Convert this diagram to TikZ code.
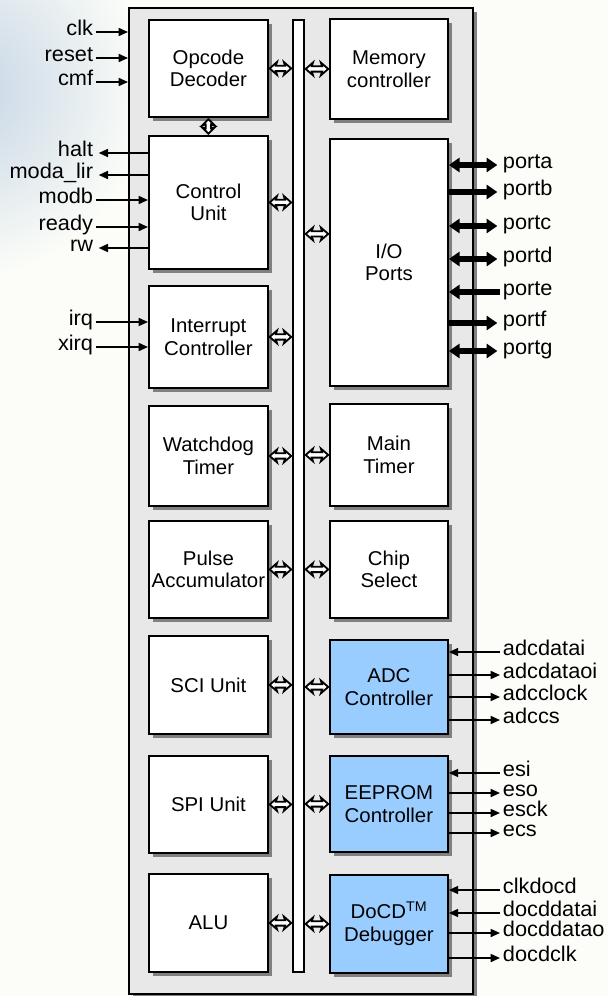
\documentclass[tikz,border=0pt]{standalone}
\usepackage{fontspec}
\setmainfont{Liberation Sans}[FakeStretch=1.02]
\usetikzlibrary{arrows.meta,shadows,calc}
\definecolor{bg}{HTML}{FCFDF8}
\definecolor{chipgray}{HTML}{E8E8E8}
\definecolor{blk}{HTML}{99CCFF}
\definecolor{glow}{HTML}{C4D4E4}
\newcommand\pxbox[7]{\node[#7, anchor=north west, minimum width={(#4-#2)*0.75pt}, minimum height={(#5-#3)*0.75pt}] (#1) at (#2,#3) {#6};}
% hollow double arrow, horizontal, from left point #1 to right point #2
\newcommand\hbi[2]{\draw[hollowshape] let \p1=#1, \p2=#2 in
  (\x1,\y1) -- (\x1+5.5pt,\y1+4.8pt) -- (\x1+4.6pt,\y1+2pt) -- (\x2-4.6pt,\y2+2pt) -- (\x2-5.5pt,\y2+4.8pt) -- (\x2,\y2)
  -- (\x2-5.5pt,\y2-4.8pt) -- (\x2-4.6pt,\y2-2pt) -- (\x1+4.6pt,\y1-2pt) -- (\x1+5.5pt,\y1-4.8pt) -- cycle;}
% hollow double arrow, vertical, from upper point #1 to lower point #2
\newcommand\vbi[2]{\draw[hollowshape] let \p1=#1, \p2=#2 in
  (\x1,\y1) -- (\x1+4.6pt,\y1-4.6pt) -- (\x1+2pt,\y1-4pt) -- (\x2+2pt,\y2+4pt) -- (\x2+4.6pt,\y2+4.6pt) -- (\x2,\y2)
  -- (\x2-4.6pt,\y2+4.6pt) -- (\x2-2pt,\y2+4pt) -- (\x1-2pt,\y1-4pt) -- (\x1-4.6pt,\y1-4.6pt) -- cycle;}
\begin{document}
\begin{tikzpicture}[x=0.75pt,y=-0.75pt,
  frame/.style={draw=black, line width=1.4pt, inner sep=0pt},
  box/.style={frame, fill=white, align=center, font=\fontsize{15}{17}\selectfont,
    drop shadow={shadow xshift=3pt, shadow yshift=-3pt, fill=black!50, opacity=1}},
  bluebox/.style={box, fill=blk},
  sigl/.style={font=\fontsize{16}{17}\selectfont, inner sep=2pt, text height=0.72em, text depth=0.18em, anchor=east},
  sigr/.style={sigl, anchor=west},
  tight/.style={text height=0.55em, text depth=0pt},
  thinarr/.style={line width=1.2pt, -{Triangle[length=7pt,width=6pt]}},
  portarr/.style={line width=4pt, -{Triangle[length=8pt,width=10.5pt]}},
  portbi/.style={line width=4pt, {Triangle[length=8pt,width=10.5pt]}-{Triangle[length=8pt,width=10.5pt]}},
  hollowshape/.style={draw=black, fill=white, line width=1.35pt, line join=miter}
]
\useasboundingbox (0,0) rectangle (608,996);
\fill[bg] (0,0) rectangle (608,996);
\begin{scope}
  \clip (0,0) rectangle (608,996);
  \shade[inner color=glow, outer color=bg] (-40,90) circle (190);
\end{scope}

% chip and bus
\pxbox{chip}{128}{7}{472}{993}{}{box, fill=chipgray}
\pxbox{bus}{292}{19}{303}{971}{}{frame, fill=white}

% left column
\pxbox{opc}{148}{19}{267}{116}{Opcode\\Decoder}{box}
\pxbox{ctl}{148}{135}{267}{268}{Control\\Unit}{box}
\pxbox{irc}{148}{285}{267}{387}{Interrupt\\Controller}{box}
\pxbox{wdt}{148}{405}{267}{505}{Watchdog\\Timer}{box}
\pxbox{pac}{148}{520}{267}{617}{Pulse\\Accumulator}{box}
\pxbox{sci}{148}{635}{267}{733}{SCI Unit}{box}
\pxbox{spi}{148}{755}{267}{852}{SPI Unit}{box}
\pxbox{alu}{148}{873}{267}{971}{ALU}{box}

% right column
\pxbox{mem}{329}{18}{447}{118}{Memory\\controller}{box}
\pxbox{io}{329}{138}{447}{385}{I/O\\Ports}{box}
\pxbox{mtm}{329}{403}{447}{505}{Main\\Timer}{box}
\pxbox{cs}{329}{520}{447}{617}{Chip\\Select}{box}
\pxbox{adc}{329}{639}{447}{733}{ADC\\Controller}{bluebox}
\pxbox{eep}{329}{755}{447}{851}{EEPROM\\Controller}{bluebox}
\pxbox{doc}{329}{874}{447}{972}{DoCD\textsuperscript{TM}\\Debugger}{bluebox}

% hollow bus arrows
\foreach \b in {opc,ctl,irc,wdt,pac,sci,spi,alu}
  {\hbi{([xshift=0.6pt]\b.east)}{([xshift=-0.6pt]\b.east -| bus.west)}}
\foreach \b in {mem,mtm,cs,adc,eep,doc}
  {\hbi{([xshift=0.6pt]\b.west -| bus.east)}{([xshift=-0.6pt]\b.west)}}
\hbi{([xshift=0.6pt,yshift=21.4pt]io.west -| bus.east)}{([xshift=-0.6pt,yshift=21.4pt]io.west)}
\vbi{([yshift=-1pt]opc.south)}{([yshift=1pt]ctl.north)}

% left signals
\node[sigl] (clk) at (96,32) {clk};
\node[sigl] (reset) at (96,58) {reset};
\node[sigl] (cmf) at (96,82) {cmf};
\node[sigl] (halt) at (96,153) {halt};
\node[sigl] (moda) at (96,175) {moda\_lir};
\node[sigl] (modb) at (96,200) {modb};
\node[sigl] (ready) at (96,227) {ready};
\node[sigl] (rw) at (96,248) {rw};
\node[sigl] (irq) at (96,322) {irq};
\node[sigl] (xirq) at (96,347) {xirq};
\foreach \s in {clk,reset,cmf}
  \draw[thinarr] (\s.east) -- (\s.east -| chip.west);
\foreach \s in {halt,moda,rw}
  \draw[thinarr, shorten >=2pt] (\s.east -| ctl.west) -- (\s.east);
\foreach \s in {modb,ready}
  \draw[thinarr] (\s.east) -- (\s.east -| ctl.west);
\foreach \s in {irq,xirq}
  \draw[thinarr] (\s.east) -- (\s.east -| irc.west);

% ports
\node[sigr] (pa) at (500,165) {porta};
\node[sigr] (pb) at (500,192) {portb};
\node[sigr] (pc) at (500,226) {portc};
\node[sigr] (pd) at (500,259) {portd};
\node[sigr] (pe) at (500,292) {porte};
\node[sigr] (pf) at (500,323) {portf};
\node[sigr] (pg) at (500,351) {portg};
\foreach \s in {pa,pc,pd,pg}
  \draw[portbi, shorten >=2pt] (\s.west -| io.east) -- (\s.west);
\foreach \s in {pb,pf}
  \draw[portarr, shorten >=2pt] (\s.west -| io.east) -- (\s.west);
\draw[portarr] (pe.west) -- (pe.west -| io.east);

% ADC
\node[sigr] (a1) at (500,652) {adcdatai};
\node[sigr] (a2) at (500,675) {adcdataoi};
\node[sigr] (a3) at (500,697) {adcclock};
\node[sigr] (a4) at (500,720) {adccs};
\draw[thinarr] (a1.west) -- (a1.west -| adc.east);
\foreach \s in {a2,a3,a4}
  \draw[thinarr] (\s.west -| adc.east) -- (\s.west);

% EEPROM
\node[sigr, tight] (e1) at (500,773) {esi};
\node[sigr, tight] (e2) at (500,793) {eso};
\node[sigr] (e3) at (500,813) {esck};
\node[sigr] (e4) at (500,833) {ecs};
\draw[thinarr] (e1.west) -- (e1.west -| eep.east);
\foreach \s in {e2,e3,e4}
  \draw[thinarr] (\s.west -| eep.east) -- (\s.west);

% DoCD
\node[sigr] (d1) at (500,890) {clkdocd};
\node[sigr] (d2) at (500,913) {docddatai};
\node[sigr] (d3) at (500,933) {docddatao};
\node[sigr] (d4) at (500,958) {docdclk};
\foreach \s in {d1,d2}
  \draw[thinarr] (\s.west) -- (\s.west -| doc.east);
\foreach \s in {d3,d4}
  \draw[thinarr] (\s.west -| doc.east) -- (\s.west);
\end{tikzpicture}
\end{document}
